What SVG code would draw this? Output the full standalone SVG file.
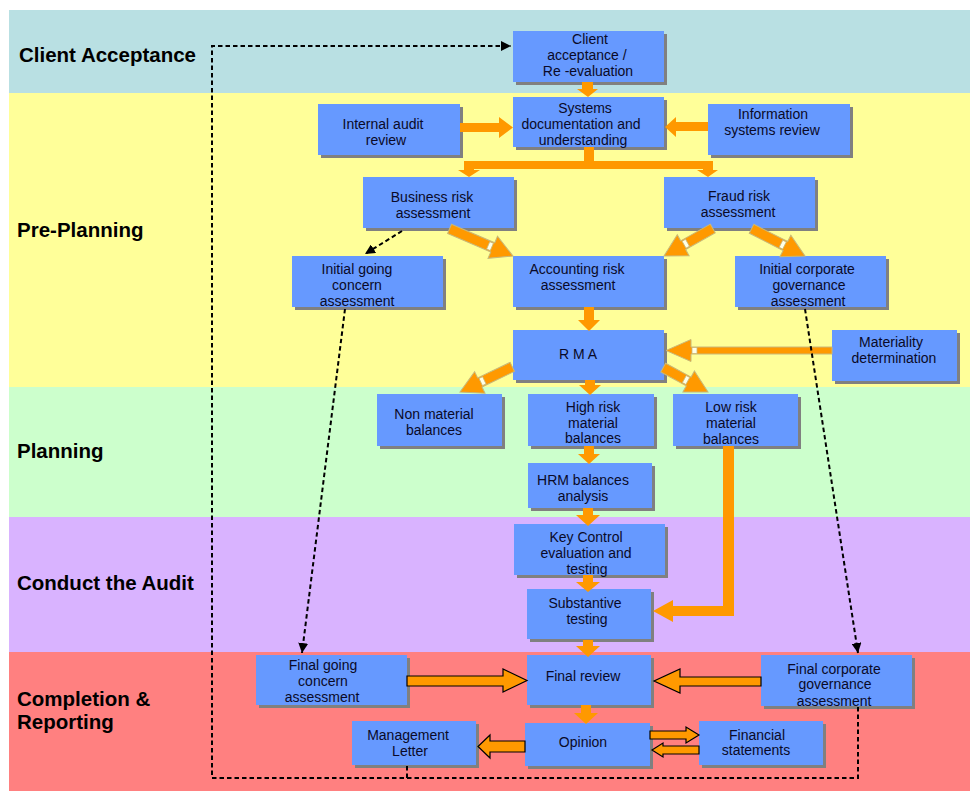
<svg xmlns="http://www.w3.org/2000/svg" width="970" height="791" viewBox="0 0 970 791">
<defs>
<style>
.lane{font-family:"Liberation Sans",Arial,sans-serif;font-weight:bold;font-size:20.5px;fill:#000}
.box{fill:#6699FF}
.sh{fill:#808080}
.t{font-family:"Liberation Sans",Arial,sans-serif;font-size:14px;fill:#0a0a28;text-anchor:middle}
.sol{fill:#FF9900}
.blk{fill:#FF9900;stroke:#000;stroke-width:1.2}
.dg{fill:#FF9900;stroke:#C8B878;stroke-width:1}
.notch{fill:#FFFFE8;stroke:#C8B878;stroke-width:0.8}
.dash{fill:none;stroke:#000;stroke-width:2;stroke-dasharray:4.5,3}
</style>
<marker id="ah" viewBox="0 0 10 10" refX="10" refY="5" markerWidth="5" markerHeight="5" orient="auto" markerUnits="strokeWidth">
<path d="M0,0 L10,5 L0,10 z" fill="#000"/>
</marker>
</defs>

<g id="lanes">
<rect x="9" y="10" width="961" height="83" fill="#B9E0E3"/>
<rect x="9" y="93" width="961" height="294" fill="#FFFF99"/>
<rect x="9" y="387" width="961" height="130" fill="#CCFFCC"/>
<rect x="9" y="517" width="961" height="135" fill="#D9B3FF"/>
<rect x="9" y="652" width="961" height="139" fill="#FF8080"/>
<text class="lane" x="19" y="62">Client Acceptance</text>
<text class="lane" x="17" y="237">Pre-Planning</text>
<text class="lane" x="17" y="458">Planning</text>
<text class="lane" x="17" y="590">Conduct the Audit</text>
<text class="lane" x="17" y="706">Completion &amp;</text>
<text class="lane" x="17" y="729">Reporting</text>
</g>

<g id="n-client-acceptance"><rect class="sh" x="516" y="34" width="151" height="51"/><rect class="box" x="513" y="31" width="151" height="51"/>
<text class="t" x="590" y="44">Client</text><text class="t" x="587" y="60">acceptance /</text><text class="t" x="588" y="76">Re -evaluation</text></g>

<g id="n-systems-doc"><rect class="sh" x="516" y="100" width="151" height="50"/><rect class="box" x="513" y="97" width="151" height="50"/>
<text class="t" x="585" y="113">Systems</text><text class="t" x="581" y="129">documentation and</text><text class="t" x="583" y="145">understanding</text></g>

<g id="n-internal-audit"><rect class="sh" x="321" y="107" width="142" height="51"/><rect class="box" x="318" y="104" width="142" height="51"/>
<text class="t" x="383" y="129">Internal audit</text><text class="t" x="386" y="145">review</text></g>

<g id="n-info-systems"><rect class="sh" x="711" y="107" width="142" height="51"/><rect class="box" x="708" y="104" width="142" height="51"/>
<text class="t" x="773" y="119">Information</text><text class="t" x="772" y="135">systems review</text></g>

<g id="n-business-risk"><rect class="sh" x="366" y="180" width="151" height="51"/><rect class="box" x="363" y="177" width="151" height="51"/>
<text class="t" x="432" y="202">Business risk</text><text class="t" x="433" y="218">assessment</text></g>

<g id="n-fraud-risk"><rect class="sh" x="667" y="180" width="151" height="51"/><rect class="box" x="664" y="177" width="151" height="51"/>
<text class="t" x="739" y="201">Fraud risk</text><text class="t" x="738" y="217">assessment</text></g>

<g id="n-initial-going"><rect class="sh" x="295" y="259" width="151" height="51"/><rect class="box" x="292" y="256" width="151" height="51"/>
<text class="t" x="357" y="274">Initial going</text><text class="t" x="357" y="290">concern</text><text class="t" x="357" y="306">assessment</text></g>

<g id="n-accounting-risk"><rect class="sh" x="516" y="259" width="151" height="51"/><rect class="box" x="513" y="256" width="151" height="51"/>
<text class="t" x="577" y="274">Accounting risk</text><text class="t" x="578" y="290">assessment</text></g>

<g id="n-initial-corp"><rect class="sh" x="738" y="259" width="151" height="51"/><rect class="box" x="735" y="256" width="151" height="51"/>
<text class="t" x="807" y="274">Initial corporate</text><text class="t" x="809" y="290">governance</text><text class="t" x="808" y="306">assessment</text></g>

<g id="n-rma"><rect class="sh" x="516" y="333" width="151" height="50"/><rect class="box" x="513" y="330" width="151" height="50"/>
<text class="t" x="578" y="359">R M A</text></g>

<g id="n-materiality"><rect class="sh" x="835" y="333" width="125" height="51"/><rect class="box" x="832" y="330" width="125" height="51"/>
<text class="t" x="891" y="347">Materiality</text><text class="t" x="894" y="363">determination</text></g>

<g id="n-non-material"><rect class="sh" x="380" y="397" width="125" height="52"/><rect class="box" x="377" y="394" width="125" height="52"/>
<text class="t" x="434" y="419">Non material</text><text class="t" x="434" y="435">balances</text></g>

<g id="n-high-risk"><rect class="sh" x="531" y="397" width="126" height="52"/><rect class="box" x="528" y="394" width="126" height="52"/>
<text class="t" x="593" y="412">High risk</text><text class="t" x="593" y="428">material</text><text class="t" x="593" y="443">balances</text></g>

<g id="n-low-risk"><rect class="sh" x="676" y="397" width="125" height="52"/><rect class="box" x="673" y="394" width="125" height="52"/>
<text class="t" x="731" y="412">Low risk</text><text class="t" x="731" y="428">material</text><text class="t" x="731" y="444">balances</text></g>

<g id="n-hrm"><rect class="sh" x="531" y="466" width="124" height="45"/><rect class="box" x="528" y="463" width="124" height="45"/>
<text class="t" x="583" y="485">HRM balances</text><text class="t" x="583" y="501">analysis</text></g>

<g id="n-key-control"><rect class="sh" x="517" y="527" width="151" height="51"/><rect class="box" x="514" y="524" width="151" height="51"/>
<text class="t" x="586" y="542">Key Control</text><text class="t" x="586" y="558">evaluation and</text><text class="t" x="587" y="574">testing</text></g>

<g id="n-substantive"><rect class="sh" x="530" y="592" width="124" height="50"/><rect class="box" x="527" y="589" width="124" height="50"/>
<text class="t" x="585" y="608">Substantive</text><text class="t" x="587" y="624">testing</text></g>

<g id="n-final-going"><rect class="sh" x="259" y="658" width="151" height="50"/><rect class="box" x="256" y="655" width="151" height="50"/>
<text class="t" x="323" y="670">Final going</text><text class="t" x="323" y="686">concern</text><text class="t" x="322" y="702">assessment</text></g>

<g id="n-final-review"><rect class="sh" x="530" y="658" width="124" height="50"/><rect class="box" x="527" y="655" width="124" height="50"/>
<text class="t" x="583" y="681">Final review</text></g>

<g id="n-final-corp"><rect class="sh" x="764" y="658" width="151" height="51"/><rect class="box" x="761" y="655" width="151" height="51"/>
<text class="t" x="834" y="674">Final corporate</text><text class="t" x="835" y="689">governance</text><text class="t" x="834" y="706">assessment</text></g>

<g id="n-management-letter"><rect class="sh" x="355" y="724" width="124" height="44"/><rect class="box" x="352" y="721" width="124" height="44"/>
<text class="t" x="408" y="740">Management</text><text class="t" x="410" y="756">Letter</text></g>

<g id="n-opinion"><rect class="sh" x="528" y="726" width="125" height="43"/><rect class="box" x="525" y="723" width="125" height="43"/>
<text class="t" x="583" y="747">Opinion</text></g>

<g id="n-financial-statements"><rect class="sh" x="702" y="724" width="124" height="44"/><rect class="box" x="699" y="721" width="124" height="44"/>
<text class="t" x="757" y="740">Financial</text><text class="t" x="756" y="755">statements</text></g>

<g id="connectors">
<path class="sol" d="M582,82 H593 V89 H598 L588,97 L577,89 H582 Z"/>
<path class="sol" d="M460,123 H499 V117 L513,127.5 L499,138 V132 H460 Z"/>
<path class="sol" d="M708,122 H676 V117 L665,127 L676,137 V131 H708 Z"/>
<path class="sol" d="M584,147 H594 V161 H713 V169 L713,170 H718 L708,177 L697,170 H703 V169 H474 V170 H480 L469,177 L458,170 H464 V161 H584 Z"/>
<path class="sol" d="M584,307 H594 V320 H600 L589,331 L578,320 H584 Z"/>
<path class="sol" d="M585,380 H595 V385 H601 L590,395 L579,385 H585 Z"/>
<path class="sol" d="M584,446 H594 V454 H600 L589,464 L578,454 H584 Z"/>
<path class="sol" d="M583,508 H593 V515 H600 L588,526 L576,515 H583 Z"/>
<path class="sol" d="M583,575 H593 V582 H600 L588,592 L576,582 H583 Z"/>
<path class="sol" d="M583,640 H593 V646 H600 L588,657 L576,646 H583 Z"/>
<path class="sol" d="M581,705 H591 V713 H598 L586,724 L574,713 H581 Z"/>
<path class="sol" d="M723,446 H734 V616 H673 V622 L653,611 L673,600 V606 H723 Z"/>

<g transform="translate(513,256) rotate(23.2)"><path class="dg" d="M-69,-5 H-22 V-12 L0,0 L-22,12 V5 H-69 Z"/><rect class="notch" x="-27" y="-4" width="4" height="8"/></g>
<g transform="translate(664,256) rotate(150.6)"><path class="dg" d="M-56,-5 H-22 V-12 L0,0 L-22,12 V5 H-56 Z"/><rect class="notch" x="-27" y="-4" width="4" height="8"/></g>
<g transform="translate(805,256) rotate(27)"><path class="dg" d="M-60,-5 H-22 V-12 L0,0 L-22,12 V5 H-60 Z"/><rect class="notch" x="-27" y="-4" width="4" height="8"/></g>
<g transform="translate(460,392) rotate(154.3)"><path class="dg" d="M-58,-5 H-22 V-12 L0,0 L-22,12 V5 H-58 Z"/><rect class="notch" x="-27" y="-4" width="4" height="8"/></g>
<g transform="translate(708,392) rotate(28.6)"><path class="dg" d="M-51,-5 H-22 V-12 L0,0 L-22,12 V5 H-51 Z"/><rect class="notch" x="-27" y="-4" width="4" height="8"/></g>
<g transform="translate(666,350.5) rotate(180)"><path class="dg" d="M-166,-3.5 H-25 V-11 L0,0 L-25,11 V3.5 H-166 Z"/><rect class="notch" x="-31" y="-3" width="5" height="6"/></g>

<path class="blk" d="M407,676 H503 V669 L527,680.5 L503,692 V686 H407 Z"/>
<path class="blk" d="M761,677 H680 V669 L654,681 L680,693 V686 H761 Z"/>
<path class="blk" d="M525,741 H490 V735 L478,746.5 L490,758 V752 H525 Z"/>
<path class="blk" d="M650,731 H686 V727 L699,735 L686,743 V739 H650 Z"/>
<path class="blk" d="M699,746 H663 V743 L652,750 L663,757 V754 H699 Z"/>

<path class="dash" d="M407,766 V778 H212 V46 H511" marker-end="url(#ah)"/>
<path class="dash" d="M858,707 V778 H407"/>
<path class="dash" d="M402,231 L365,254" marker-end="url(#ah)"/>
<path class="dash" d="M345,309 L302,653" marker-end="url(#ah)"/>
<path class="dash" d="M805,309 L858,653" marker-end="url(#ah)"/>
</g>
</svg>
